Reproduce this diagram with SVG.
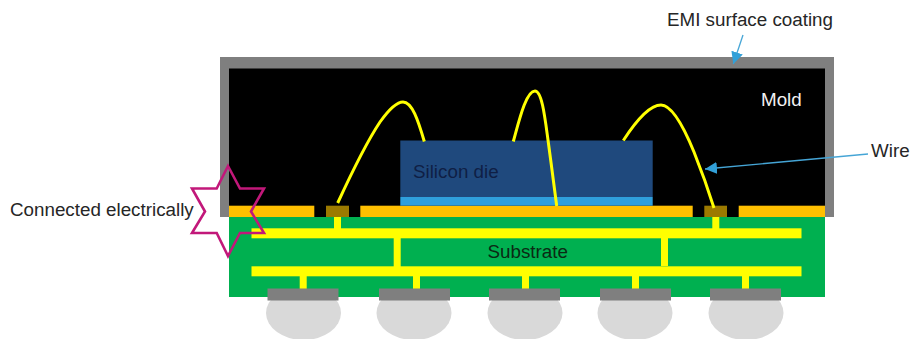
<svg xmlns="http://www.w3.org/2000/svg" width="913" height="339" viewBox="0 0 913 339">
<style>
text{font-family:"Liberation Sans",Arial,sans-serif;font-size:18.8px;fill:#262626}
.or{fill:#ffc000}.pad{fill:#9c7a00}.y{fill:#ffff00}.gp{fill:#7f7f7f}.ball{fill:#d9d9d9}
.wire{fill:none;stroke:#ffff00;stroke-width:3;stroke-linecap:butt}
.lead{fill:none;stroke:#45a5d6;stroke-width:1.3}
</style>
<defs><marker id="ah" markerUnits="userSpaceOnUse" markerWidth="14" markerHeight="12" refX="12" refY="6" orient="auto"><path d="M0 0L12 6L0 12Z" fill="#32a0d8"/></marker></defs>
<rect width="913" height="339" fill="#fff"/>
<g id="coating"><rect x="220" y="57" width="614" height="160" fill="#7f7f7f"/></g>
<g id="mold"><rect x="229" y="68.5" width="596" height="148.5" fill="#000"/><text x="761" y="106" style="fill:#f2f2f2">Mold</text></g>
<g id="balls">
<ellipse class="ball" cx="303.5" cy="313" rx="37.5" ry="27"/><ellipse class="ball" cx="414" cy="313" rx="37.5" ry="27"/><ellipse class="ball" cx="525" cy="313" rx="37.5" ry="27"/><ellipse class="ball" cx="635" cy="313" rx="37.5" ry="27"/><ellipse class="ball" cx="746" cy="313" rx="37.5" ry="27"/>
</g>
<g id="substrate">
<rect x="229" y="217" width="596" height="80" fill="#00b050"/>
<rect class="y" x="251.5" y="228.3" width="550" height="10"/>
<rect class="y" x="251.5" y="266.3" width="550" height="10"/>
<rect class="y" x="334" y="217" width="7" height="12"/><rect class="y" x="712.3" y="217" width="7" height="12"/>
<rect class="y" x="393.7" y="238" width="7" height="29"/><rect class="y" x="661" y="238" width="7" height="28"/>
<rect class="y" x="299.7" y="276" width="7" height="13"/><rect class="y" x="413" y="276" width="7" height="13"/><rect class="y" x="522" y="276" width="7" height="13"/><rect class="y" x="632" y="276" width="7" height="13"/><rect class="y" x="742" y="276" width="7" height="13"/>
<rect class="gp" x="267.5" y="288.5" width="71" height="12"/><rect class="gp" x="379" y="288.5" width="71" height="12"/><rect class="gp" x="489" y="288.5" width="71" height="12"/><rect class="gp" x="600" y="288.5" width="71" height="12"/><rect class="gp" x="710" y="288.5" width="71" height="12"/>
<text x="487.5" y="257.5" style="fill:#0b2a14">Substrate</text>
</g>
<g id="pads">
<rect class="or" x="229" y="205.7" width="85.3" height="11.3"/><rect class="pad" x="326" y="205.7" width="23" height="11.3"/>
<rect class="or" x="360.3" y="205.7" width="332.4" height="11.3"/><rect class="pad" x="704.3" y="205.7" width="22.7" height="11.3"/>
<rect class="or" x="738.7" y="205.7" width="86.3" height="11.3"/>
</g>
<g id="die">
<rect x="400.3" y="140.5" width="252.4" height="56.5" fill="#1f497d"/>
<rect x="400.3" y="197" width="252.4" height="8.7" fill="#2f9fdc"/>
<text x="413" y="178" style="fill:#0f1f45">Silicon die</text>
</g>
<g id="connectors">
<path class="wire" d="M337.7 203C352 172 368 140 380 122C390 108 397 102 403 102C412 102 418 120 424.3 141.5"/>
<path class="wire" d="M513.3 141.5C519 121 526 91 535 91C542 91 545 118 548 140C551 162 554 185 556.7 206"/>
<path class="wire" d="M623.3 140.5C634 124 648 105 661 105C673 105 685 130 694 152C702 172 709 192 714 208"/>
<path class="lead" marker-end="url(#ah)" d="M868 154L705 169"/>
<path class="lead" marker-end="url(#ah)" d="M743 35L733.3 64"/>
</g>
<g id="star"><path d="M228 166L240 188.5H264L251 211.5L264 233H240L228 256L216.7 233H192L205 211.5L192 188.5H216.7Z" fill="none" stroke="#c2187a" stroke-width="2.6"/></g>
<g id="labels">
<text x="667" y="26">EMI surface coating</text>
<text x="871" y="157">Wire</text>
<text x="10" y="216">Connected electrically</text>
</g>
</svg>
